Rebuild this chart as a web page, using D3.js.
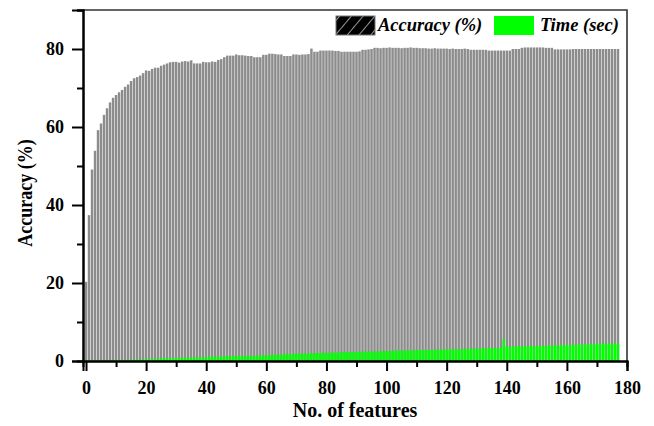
<!DOCTYPE html>
<html><head><meta charset="utf-8">
<script src="https://cdn.jsdelivr.net/npm/d3@7"></script>
<style>body{margin:0;background:#fff}svg{display:block}</style>
</head><body>
<script>
const accuracy = [
20.3,37.4,49.1,53.9,59.2,60.9,63.1,64.8,66.3,67.5,
68.2,68.9,69.5,70.3,70.9,71.8,72.5,72.8,73.2,73.8,
74.5,74.4,74.9,75.2,75.2,75.7,76.0,76.3,76.6,76.7,
76.7,76.5,76.8,76.9,76.8,77.1,76.3,76.3,76.3,76.7,
76.6,76.6,76.8,76.7,77.2,77.4,77.9,78.3,78.3,78.3,
78.6,78.4,78.4,78.3,78.2,78.2,77.9,77.9,77.9,78.5,
78.5,78.8,78.8,78.7,78.6,78.6,78.2,78.2,78.2,78.6,
78.6,78.5,78.6,78.6,78.7,80.1,79.3,79.3,79.6,79.6,
79.6,79.6,79.6,79.5,79.5,79.3,79.3,79.3,79.3,79.3,
79.3,79.4,79.8,79.8,79.9,80.0,80.3,80.3,80.2,80.3,
80.3,80.4,80.3,80.3,80.3,80.2,80.3,80.3,80.4,80.3,
80.3,80.2,80.2,80.2,80.1,80.1,80.2,80.1,80.1,80.1,
80.1,80.0,80.1,80.0,80.0,80.0,80.1,80.0,79.8,79.8,
79.8,79.8,79.8,79.8,79.6,79.6,79.6,79.6,79.6,79.6,
79.6,79.6,80.0,80.0,80.0,80.3,80.4,80.4,80.4,80.4,
80.4,80.4,80.4,80.3,80.3,80.3,79.9,79.9,79.9,79.9,
79.9,79.9,80.0,80.0,80.0,80.0,80.0,80.0,80.0,80.0,
80.0,80.0,80.0,80.0,80.0,80.0,80.0,80.0
];
const timeSec = [
0.2,0.2,0.2,0.2,0.2,0.2,0.2,0.2,0.2,0.25,
0.25,0.3,0.3,0.3,0.3,0.35,0.35,0.4,0.45,0.45,
0.5,0.5,0.55,0.6,0.6,0.7,0.7,0.7,0.75,0.75,
0.8,0.8,0.85,0.85,0.85,0.9,0.9,0.9,0.95,0.95,
1.0,1.1,1.1,1.1,1.1,1.15,1.2,1.2,1.2,1.25,
1.25,1.3,1.3,1.3,1.3,1.3,1.35,1.35,1.4,1.45,
1.45,1.55,1.6,1.6,1.6,1.6,1.8,1.8,1.8,1.85,
1.85,1.9,1.9,1.9,1.95,2.0,2.0,2.05,2.05,2.1,
2.1,2.1,2.15,2.2,2.2,2.3,2.3,2.3,2.3,2.3,
2.35,2.35,2.4,2.4,2.4,2.4,2.45,2.45,2.5,2.5,
2.55,2.55,2.6,2.65,2.7,2.7,2.7,2.7,2.75,2.75,
2.8,2.8,2.8,2.85,2.85,2.85,2.9,2.9,2.9,2.95,
2.95,3.0,3.0,3.0,3.05,3.05,3.1,3.1,3.15,3.15,
3.2,3.2,3.25,3.25,3.3,3.3,3.35,3.35,3.4,5.6,
3.7,3.65,3.7,3.75,3.8,3.8,3.8,3.85,3.85,3.85,
3.85,3.9,3.9,3.9,3.95,4.0,4.0,4.0,4.05,4.05,
4.1,4.1,4.2,4.2,4.2,4.25,4.25,4.3,4.3,4.3,
4.45,4.45,4.5,4.5,4.5,4.5,4.5,4.5
];
const features = d3.range(accuracy.length);
const xTicks = [0,20,40,60,80,100,120,140,160,180];
const yTicks = [0,20,40,60,80];
const legendLabels = ["Accuracy (%)", "Time (sec)"];

const W = 654, H = 426;
const svg = d3.select("body").append("svg").attr("width", W).attr("height", H);
const serif = "'Liberation Serif','Times New Roman',serif";

const pL = 83, pR = 627, pT = 10, pB = 361;
const x = d3.scaleLinear().domain([-1, 180]).range([pL, pR]);
const y = d3.scaleLinear().domain([0, 90]).range([pB, pT]);
const bw = (x(1) - x(0)) * 0.82;

const defs = svg.append("defs");
const pat = defs.append("pattern").attr("id","hatch").attr("patternUnits","userSpaceOnUse")
  .attr("width", 9).attr("height", 9).attr("patternTransform","rotate(40)");
pat.append("rect").attr("width",9).attr("height",9).attr("fill","#000");
pat.append("line").attr("x1",0).attr("y1",0).attr("x2",0).attr("y2",9).attr("stroke","#fff").attr("stroke-width",1.2);

// frame
svg.append("path").attr("d", `M${pL},${pT}H${pR}V${pB}`).attr("fill","none")
  .attr("stroke","#333").attr("stroke-width",1.6);

// accuracy bars
svg.append("g").selectAll("rect").data(features).join("rect")
  .attr("x", d => x(d) - bw/2).attr("width", bw)
  .attr("y", d => y(accuracy[d])).attr("height", d => y(0) - y(accuracy[d]))
  .attr("fill", "#8c8c8c");
// time bars
svg.append("g").selectAll("rect").data(features).join("rect")
  .attr("x", d => x(d) - bw/2).attr("width", bw)
  .attr("y", d => y(timeSec[d])).attr("height", d => y(0) - y(timeSec[d]))
  .attr("fill", "#00ff00");

// axes
const xAxis = svg.append("g").attr("transform", `translate(0,${pB})`)
  .call(d3.axisBottom(x).tickValues(xTicks).tickFormat(d3.format("d")).tickSize(10).tickPadding(10));
const xMinor = svg.append("g").attr("transform", `translate(0,${pB})`)
  .call(d3.axisBottom(x).tickValues(xTicks.slice(0,-1).map(v => v + 10)).tickFormat("").tickSize(6));
const yAxis = svg.append("g").attr("transform", `translate(${pL},0)`)
  .call(d3.axisLeft(y).tickValues(yTicks).tickFormat(d3.format("d")).tickSize(11).tickPadding(8));
const yMinor = svg.append("g").attr("transform", `translate(${pL},0)`)
  .call(d3.axisLeft(y).tickValues(yTicks.map(v => v + 10)).tickFormat("").tickSize(6));
[xAxis, xMinor, yAxis, yMinor].forEach(g => {
  g.selectAll(".domain").attr("stroke","#000").attr("stroke-width",2);
  g.selectAll(".tick line").attr("stroke","#000").attr("stroke-width",2);
  g.selectAll("text").attr("font-family", serif).attr("font-size", 18).attr("font-weight","bold").attr("fill","#000");
});

// axis titles
svg.append("text").attr("x", (pL+pR)/2).attr("y", 417).attr("text-anchor","middle")
  .attr("font-family", serif).attr("font-size", 20).attr("font-weight","bold").text("No. of features");
svg.append("text").attr("transform", `translate(32,193) rotate(-90) scale(1,1.15)`).attr("text-anchor","middle")
  .attr("font-family", serif).attr("font-size", 18).attr("font-weight","bold").text("Accuracy (%)");

// legend
const lg = svg.append("g");
lg.append("rect").attr("x",336).attr("y",16).attr("width",39).attr("height",19)
  .attr("fill","url(#hatch)").attr("stroke","#777").attr("stroke-width",1);
lg.append("text").attr("x",378).attr("y",31).attr("font-family",serif).attr("font-size",18.5)
  .attr("font-weight","bold").attr("font-style","italic").text(legendLabels[0]);
lg.append("rect").attr("x",494).attr("y",16).attr("width",40).attr("height",19).attr("fill","#00ff00");
lg.append("text").attr("x",540).attr("y",31).attr("font-family",serif).attr("font-size",18.5)
  .attr("font-weight","bold").attr("font-style","italic").text(legendLabels[1]);
</script>
</body></html>
